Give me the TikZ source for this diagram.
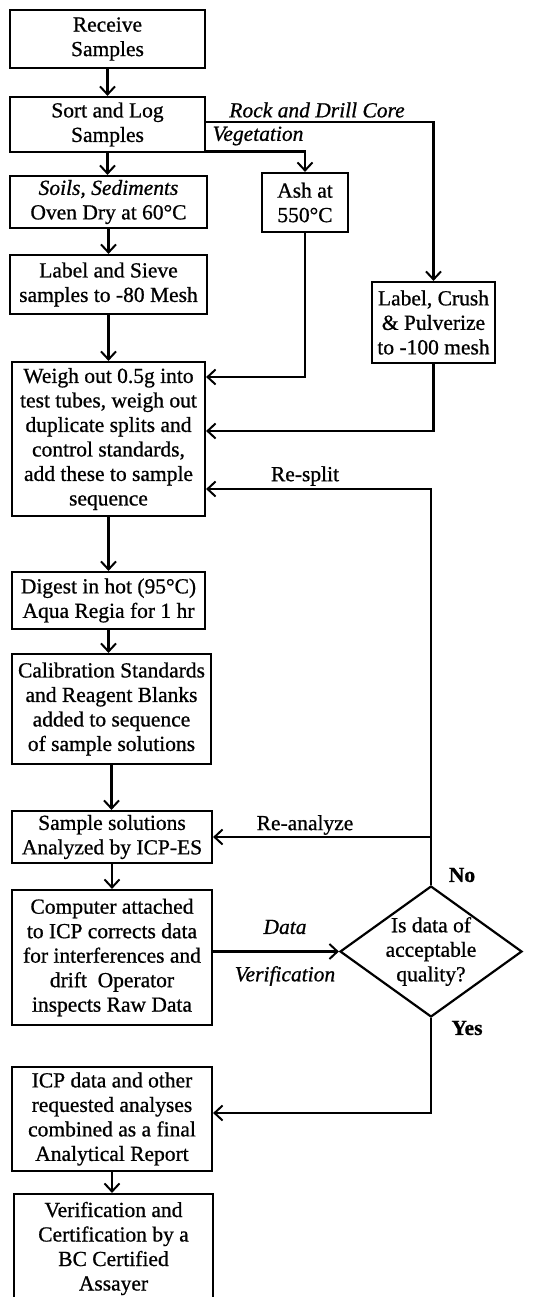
\documentclass[tikz,border=0pt]{standalone}
\usepackage{fontspec}
\setmainfont{Liberation Serif}[FakeBold=0.8]
\usetikzlibrary{arrows.meta,shapes.geometric}
\begin{document}
\begin{tikzpicture}[x=1pt,y=-1pt,
  txt/.style={font=\fontsize{21.5}{24.5}\selectfont,align=center,inner sep=0pt},
  box/.style={txt,draw,line width=2.2pt,rectangle},
  lbl/.style={font=\fontsize{21.5}{24.5}\selectfont,inner sep=0pt},
  ilbl/.style={font=\fontsize{21.5}{24.5}\selectfont\itshape,inner sep=0pt},
  arr/.style={line width=2.2pt,-{Straight Barb[length=8pt,width=15pt,line width=2pt]}},
  decision/.style={draw,diamond,line width=2.2pt,inner sep=0pt}
]
\useasboundingbox (0,0) rectangle (552,1297);

\node[box,minimum width=195pt,minimum height=58pt] (recv) at (107.5,39) {Receive\\Samples};
\node[box,minimum width=195pt,minimum height=55pt] (sort) at (107.5,124.5) {Sort and Log\\Samples};
\node[box,minimum width=197pt,minimum height=52pt] (soils) at (108.5,202) {\textit{Soils, Sediments}\\Oven Dry at 60°C};
\node[box,minimum width=86pt,minimum height=59pt] (ash) at (305,202.5) {Ash at\\550°C};
\node[box,minimum width=197pt,minimum height=59pt] (sieve) at (108.5,284.5) {Label and Sieve\\samples to -80 Mesh};
\node[box,minimum width=123pt,minimum height=81pt] (crush) at (433.5,322.5) {Label, Crush\\\& Pulverize\\to -100 mesh};
\node[box,minimum width=193pt,minimum height=154pt] (weigh) at (108.5,439) {Weigh out 0.5g into\\test tubes, weigh out\\duplicate splits and\\control standards,\\add these to sample\\sequence};
\node[box,minimum width=193pt,minimum height=57pt] (digest) at (108.5,600.5) {Digest in hot (95°C)\\Aqua Regia for 1 hr};
\node[box,minimum width=199pt,minimum height=110pt] (calib) at (111.5,709) {Calibration Standards\\and Reagent Blanks\\added to sequence\\of sample solutions};
\node[box,minimum width=200pt,minimum height=52pt] (sample) at (112,837) {Sample solutions\\Analyzed by ICP-ES};
\node[box,minimum width=200pt,minimum height=135pt] (comp) at (112,957.5) {Computer attached\\to ICP corrects data\\for interferences and\\drift~~Operator\\inspects Raw Data};
\node[decision,minimum width=182pt,minimum height=131pt] (dec) at (431,951.5) {};
\node[txt] (dectxt) at (dec.center) {Is data of\\acceptable\\quality?};
\node[box,minimum width=200pt,minimum height=104pt] (icp) at (112,1119) {ICP data and other\\requested analyses\\combined as a final\\Analytical Report};
\node[box,minimum width=199pt,minimum height=109pt] (verif) at (113.5,1248.5) {Verification and\\Certification by a\\BC Certified\\Assayer};

\coordinate (rs) at (dec.north |- 0,489);

\draw[arr] (recv.south) -- (recv.south |- sort.north);
\draw[arr] (sort.south) -- (sort.south |- soils.north);
\draw[arr] ([yshift=2.5pt]sort.east) -| (crush.north);
\draw[arr] ([yshift=1.5pt]sort.south east) -| (ash.north);
\draw[arr] (soils.south) -- (soils.south |- sieve.north);
\draw[arr] (sieve.south) -- (sieve.south |- weigh.north);
\draw[arr] (ash.south) |- ([yshift=62pt]weigh.east);
\draw[arr] (crush.south) |- ([yshift=8pt]weigh.east);
\draw[arr] (dec.north) -- (rs) -- (rs -| weigh.east);
\draw[arr] (dec.north |- sample.east) -- (sample.east);
\draw[arr] (weigh.south) -- (weigh.south |- digest.north);
\draw[arr] (digest.south) -- (digest.south |- calib.north);
\draw[arr] (calib.south) -- (calib.south |- sample.north);
\draw[arr] (sample.south) -- (sample.south |- comp.north);
\draw[arr] (comp.east |- dec.west) -- (dec.west);
\draw[arr] (dec.south) |- ([yshift=6pt]icp.east);
\draw[arr] (icp.south) -- (icp.south |- verif.north);

\node[ilbl] (lrock) at (317,110) {Rock and Drill Core};
\node[ilbl] (lveg) at (258,136) {Vegetation};
\node[lbl] (lresplit) at (305,476) {Re-split};
\node[lbl] (lreanal) at (305,825) {Re-analyze};
\node[lbl] (lno) at (462,875) {\textbf{No}};
\node[lbl] (lyes) at (467,1028) {\textbf{Yes}};
\node[ilbl] (ldata) at (285,927) {Data};
\node[ilbl] (lverif) at (285,976) {Verification};
\end{tikzpicture}
\end{document}
